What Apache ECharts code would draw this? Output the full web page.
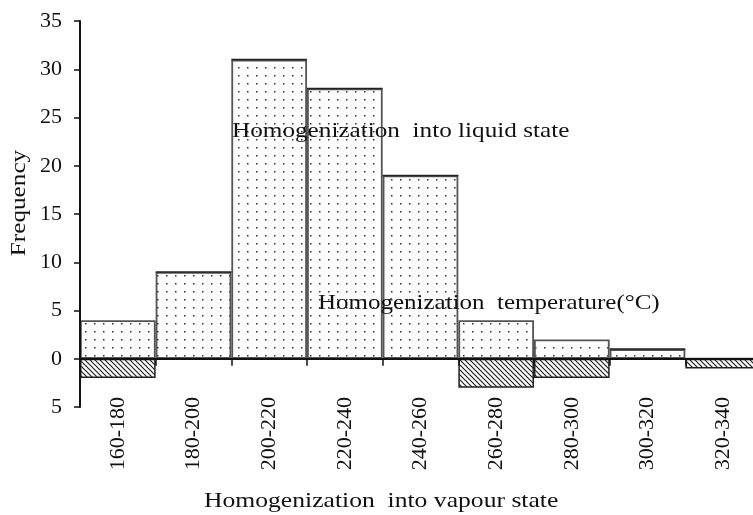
<!DOCTYPE html>
<html>
<head>
<meta charset="utf-8">
<script src="https://cdn.jsdelivr.net/npm/echarts@6/dist/echarts.min.js"></script>
<style>
  html, body { margin: 0; padding: 0; background: #fff; }
  #chart { width: 753px; height: 515px; }
</style>
</head>
<body>
<div id="chart"></div>
<script>
const categories = ['160-180', '180-200', '200-220', '220-240', '240-260', '260-280', '280-300', '300-320', '320-340'];
const liquidCounts = [4, 9, 31, 28, 19, 4, 2, 1, 0];
const vapourCounts = [-2, 0, 0, 0, 0, -3, -2, 0, -1];
const yTicks = [-5, 0, 5, 10, 15, 20, 25, 30, 35];

const serif = 'Liberation Serif';
const noteFont = '21px "Liberation Serif"';

// dotted fill for the liquid bars
function dotPattern() {
  const c = document.createElement('canvas');
  c.width = 9; c.height = 8;
  const ctx = c.getContext('2d');
  ctx.fillStyle = '#fff';
  ctx.fillRect(0, 0, 9, 8);
  ctx.fillStyle = '#333';
  ctx.fillRect(4, 3, 1.5, 1.5);
  return c;
}

// diagonal hatch for the vapour bars
function hatchPattern() {
  const c = document.createElement('canvas');
  c.width = 5; c.height = 5;
  const ctx = c.getContext('2d');
  ctx.fillStyle = '#fff';
  ctx.fillRect(0, 0, 5, 5);
  ctx.strokeStyle = '#222';
  ctx.lineWidth = 1.2;
  ctx.beginPath();
  ctx.moveTo(-1, -1); ctx.lineTo(6, 6);
  ctx.moveTo(-1, 4); ctx.lineTo(1, 6);
  ctx.moveTo(4, -1); ctx.lineTo(6, 1);
  ctx.stroke();
  return c;
}

const chart = echarts.init(document.getElementById('chart'));

chart.setOption({
  animation: false,
  backgroundColor: '#fff',
  grid: { left: 80, top: 21, width: 681, height: 386, containLabel: false, outerBoundsMode: 'none' },
  xAxis: [
    {
      type: 'category',
      data: categories,
      position: 'bottom',
      z: 10,
      axisLine: { onZero: true, lineStyle: { color: '#111', width: 2 } },
      axisTick: { show: true, interval: 0, length: 7, lineStyle: { color: '#111', width: 1.5 } },
      axisLabel: { show: false }
    },
    {
      type: 'category',
      data: categories,
      position: 'bottom',
      offset: -10,
      axisLine: { show: false },
      axisTick: { show: false },
      axisLabel: {
        interval: 0,
        rotate: 90,
        margin: 0,
        fontFamily: serif,
        fontSize: 22,
        color: '#111'
      }
    }
  ],
  yAxis: {
    type: 'value',
    min: -5,
    max: 35,
    interval: 5,
    z: 10,
    splitLine: { show: false },
    axisLine: { show: true, lineStyle: { color: '#111', width: 2 } },
    axisTick: { show: true, length: 6, lineStyle: { color: '#111', width: 1.5 } },
    axisLabel: {
      margin: 18,
      fontFamily: serif,
      fontSize: 22,
      color: '#111',
      formatter: v => (yTicks.indexOf(v) >= 0 ? String(Math.abs(v)) : '')
    }
  },
  series: [
    {
      name: 'Homogenization into liquid state',
      type: 'bar',
      stack: 'h',
      barWidth: '100%',
      data: liquidCounts,
      itemStyle: {
        color: { image: dotPattern(), repeat: 'repeat' },
        borderColor: '#555',
        borderWidth: 1.8
      }
    },
    {
      name: 'Homogenization into vapour state',
      type: 'bar',
      stack: 'h',
      barWidth: '100%',
      data: vapourCounts,
      itemStyle: {
        color: { image: hatchPattern(), repeat: 'repeat' },
        borderColor: '#222',
        borderWidth: 1.5
      }
    }
  ],
  graphic: [
    {
      type: 'text', x: 19, y: 203, rotation: Math.PI / 2, scaleX: 1.2, z: 20,
      style: { text: 'Frequency', font: noteFont, fill: '#111', align: 'center', verticalAlign: 'middle' }
    },
    {
      type: 'text', x: 232, y: 121, scaleX: 1.2, z: 20,
      style: { text: 'Homogenization  into liquid state', font: noteFont, fill: '#111', verticalAlign: 'top' }
    },
    {
      type: 'text', x: 318, y: 293, scaleX: 1.19, z: 20,
      style: { text: 'Homogenization  temperature(°C)', font: noteFont, fill: '#111', verticalAlign: 'top' }
    },
    {
      type: 'text', x: 204, y: 491, scaleX: 1.22, z: 20,
      style: { text: 'Homogenization  into vapour state', font: noteFont, fill: '#111', verticalAlign: 'top' }
    }
  ]
});
</script>
</body>
</html>
